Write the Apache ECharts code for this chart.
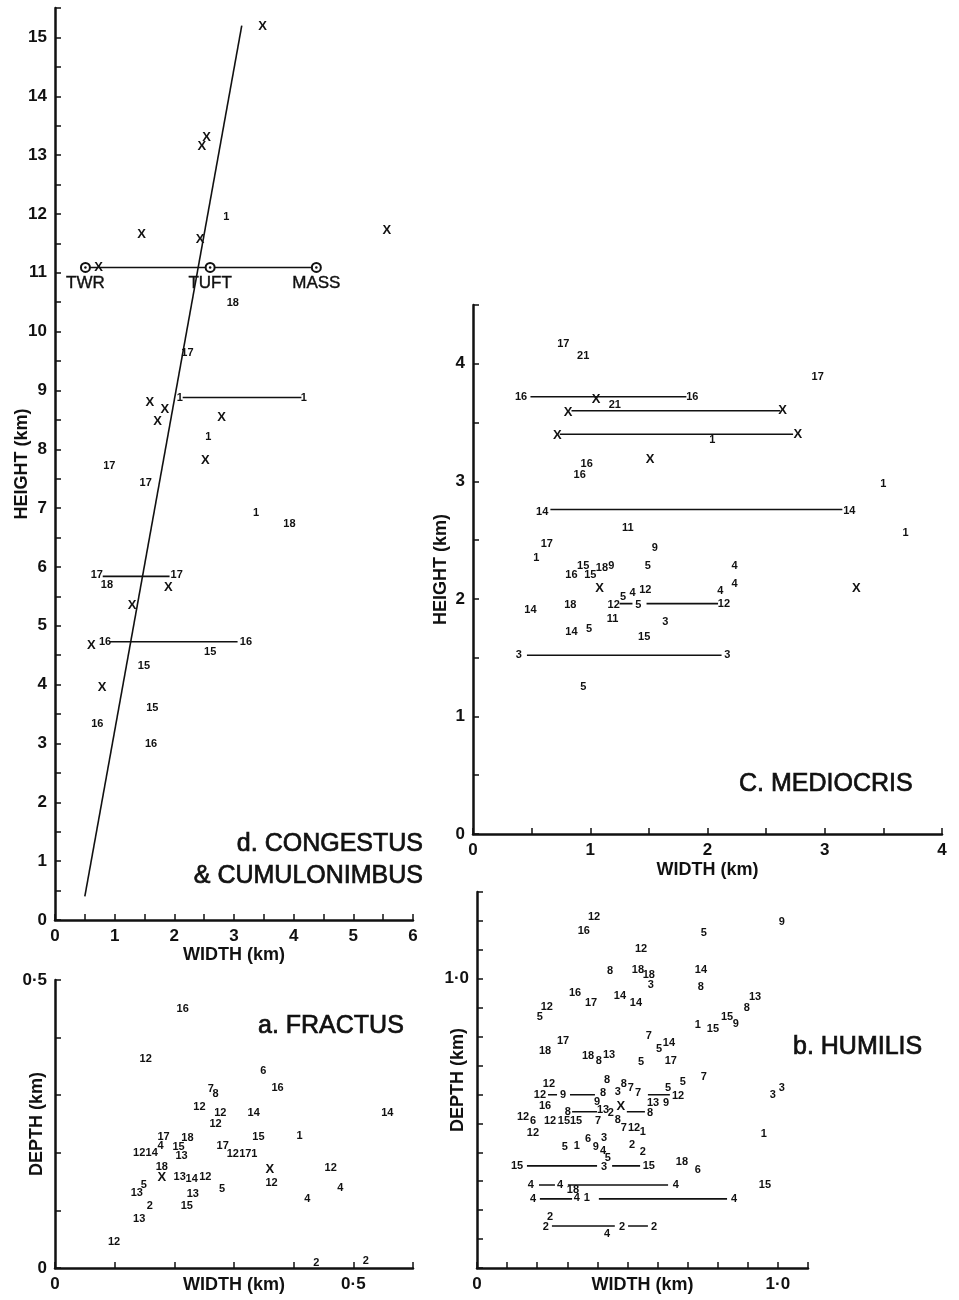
<!DOCTYPE html>
<html>
<head>
<meta charset="utf-8">
<script src="https://cdn.jsdelivr.net/npm/echarts@6/dist/echarts.min.js"></script>
<style>
  html, body { margin: 0; background: #fff; }
  #main { width: 959px; height: 1300px; }
</style>
</head>
<body>
<div id="main"></div>
<script>
// d. congestus & cumulonimbus : [width km, height km, mark]
var congestusPts = [
  [3.48, 15.19, 'X'], [2.54, 13.30, 'X'], [2.46, 13.15, 'X'], [2.87, 11.94, '1'],
  [1.45, 11.66, 'X'], [2.43, 11.56, 'X'], [5.56, 11.72, 'X'], [0.73, 11.09, 'X'],
  [2.98, 10.49, '18'], [2.22, 9.64, '17'], [2.09, 8.88, '1'], [4.17, 8.88, '1'],
  [1.59, 8.79, 'X'], [1.84, 8.67, 'X'], [1.72, 8.47, 'X'], [2.79, 8.55, 'X'],
  [2.57, 8.21, '1'], [2.52, 7.81, 'X'], [0.91, 7.72, '17'], [1.52, 7.43, '17'],
  [3.37, 6.92, '1'], [3.93, 6.73, '18'], [0.70, 5.86, '17'], [2.04, 5.86, '17'],
  [0.87, 5.70, '18'], [1.90, 5.65, 'X'], [1.29, 5.34, 'X'], [0.61, 4.66, 'X'],
  [0.84, 4.73, '16'], [3.20, 4.73, '16'], [2.60, 4.56, '15'], [1.49, 4.32, '15'],
  [0.79, 3.95, 'X'], [1.63, 3.60, '15'], [0.71, 3.33, '16'], [1.61, 2.99, '16']
];
var congestusSites = [[0.51, 11.09, 'TWR'], [2.60, 11.09, 'TUFT'], [4.38, 11.09, 'MASS']];
var congestusSegs = [[0.55, 4.34, 11.09], [2.14, 4.13, 8.88], [0.80, 1.92, 5.84], [0.92, 3.06, 4.73]];
var congestusFit = [[0.50, 0.40], [3.13, 15.20]];

// c. mediocris
var mediocrisPts = [
  [0.77, 4.17, '17'], [0.94, 4.07, '21'], [2.94, 3.89, '17'], [0.41, 3.72, '16'],
  [1.87, 3.72, '16'], [1.05, 3.70, 'X'], [1.21, 3.65, '21'], [0.81, 3.59, 'X'],
  [2.64, 3.60, 'X'], [0.72, 3.39, 'X'], [2.77, 3.40, 'X'], [2.04, 3.35, '1'],
  [1.51, 3.19, 'X'], [0.97, 3.15, '16'], [0.91, 3.05, '16'], [3.50, 2.98, '1'],
  [0.59, 2.74, '14'], [3.21, 2.75, '14'], [1.32, 2.60, '11'], [3.69, 2.56, '1'],
  [0.63, 2.47, '17'], [1.55, 2.43, '9'], [0.54, 2.35, '1'], [0.94, 2.28, '15'],
  [1.10, 2.26, '18'], [1.18, 2.28, '9'], [1.49, 2.28, '5'], [2.23, 2.28, '4'],
  [0.84, 2.20, '16'], [1.00, 2.20, '15'], [2.23, 2.13, '4'], [1.08, 2.09, 'X'],
  [2.11, 2.07, '4'], [1.47, 2.08, '12'], [1.36, 2.05, '4'], [1.28, 2.02, '5'],
  [1.20, 1.95, '12'], [1.41, 1.95, '5'], [2.14, 1.96, '12'], [0.49, 1.91, '14'],
  [0.83, 1.95, '18'], [1.19, 1.83, '11'], [1.64, 1.80, '3'], [0.84, 1.72, '14'],
  [0.99, 1.74, '5'], [1.46, 1.68, '15'], [0.39, 1.52, '3'], [2.17, 1.52, '3'],
  [0.94, 1.25, '5'], [3.27, 2.09, 'X']
];
var mediocrisSegs = [
  [0.49, 1.82, 3.72], [0.84, 2.62, 3.60], [0.74, 2.73, 3.40], [0.66, 3.15, 2.76],
  [1.25, 1.36, 1.96], [1.48, 2.09, 1.96], [0.46, 2.12, 1.52]
];

// a. fractus : [width km, depth km, mark]
var fractusPts = [
  [0.214, 0.450, '16'], [0.152, 0.363, '12'], [0.349, 0.342, '6'], [0.261, 0.311, '7'],
  [0.269, 0.302, '8'], [0.373, 0.312, '16'], [0.242, 0.280, '12'], [0.277, 0.269, '12'],
  [0.333, 0.269, '14'], [0.557, 0.269, '14'], [0.269, 0.250, '12'], [0.341, 0.228, '15'],
  [0.410, 0.229, '1'], [0.182, 0.228, '17'], [0.222, 0.226, '18'], [0.207, 0.210, '15'],
  [0.141, 0.200, '12'], [0.162, 0.200, '14'], [0.177, 0.212, '4'], [0.212, 0.195, '13'],
  [0.281, 0.212, '17'], [0.298, 0.198, '12'], [0.319, 0.198, '17'], [0.334, 0.198, '1'],
  [0.179, 0.175, '18'], [0.179, 0.158, 'X'], [0.360, 0.172, 'X'], [0.462, 0.173, '12'],
  [0.209, 0.158, '13'], [0.229, 0.155, '14'], [0.252, 0.158, '12'], [0.363, 0.148, '12'],
  [0.478, 0.139, '4'], [0.280, 0.137, '5'], [0.149, 0.144, '5'], [0.137, 0.130, '13'],
  [0.231, 0.128, '13'], [0.423, 0.120, '4'], [0.159, 0.108, '2'], [0.221, 0.108, '15'],
  [0.141, 0.085, '13'], [0.099, 0.045, '12'], [0.438, 0.009, '2'], [0.521, 0.012, '2']
];

// b. humilis
var humilisPts = [
  [0.389, 1.214, '12'], [0.355, 1.166, '16'], [1.013, 1.197, '9'], [0.754, 1.159, '5'],
  [0.545, 1.104, '12'], [0.442, 1.028, '8'], [0.535, 1.031, '18'], [0.571, 1.014, '18'],
  [0.578, 0.979, '3'], [0.744, 1.031, '14'], [0.744, 0.972, '8'], [0.326, 0.952, '16'],
  [0.379, 0.917, '17'], [0.475, 0.941, '14'], [0.528, 0.917, '14'], [0.924, 0.938, '13'],
  [0.897, 0.900, '8'], [0.232, 0.903, '12'], [0.209, 0.869, '5'], [0.831, 0.869, '15'],
  [0.860, 0.844, '9'], [0.734, 0.841, '1'], [0.784, 0.827, '15'], [0.571, 0.803, '7'],
  [0.638, 0.779, '14'], [0.605, 0.758, '5'], [0.286, 0.785, '17'], [0.226, 0.751, '18'],
  [0.369, 0.734, '18'], [0.405, 0.716, '8'], [0.439, 0.737, '13'], [0.545, 0.713, '5'],
  [0.644, 0.716, '17'], [0.754, 0.661, '7'], [0.684, 0.644, '5'], [0.432, 0.651, '8'],
  [0.239, 0.637, '12'], [0.209, 0.599, '12'], [0.286, 0.599, '9'], [0.419, 0.605, '8'],
  [0.468, 0.609, '3'], [0.488, 0.637, '8'], [0.511, 0.623, '7'], [0.535, 0.605, '7'],
  [0.635, 0.623, '5'], [0.668, 0.595, '12'], [0.983, 0.599, '3'], [1.013, 0.623, '3'],
  [0.226, 0.561, '16'], [0.399, 0.574, '9'], [0.419, 0.547, '13'], [0.445, 0.536, '2'],
  [0.478, 0.557, 'X'], [0.575, 0.536, '8'], [0.585, 0.571, '13'], [0.628, 0.571, '9'],
  [0.302, 0.540, '8'], [0.153, 0.522, '12'], [0.186, 0.509, '6'], [0.243, 0.509, '12'],
  [0.289, 0.509, '15'], [0.329, 0.509, '15'], [0.402, 0.509, '7'], [0.468, 0.512, '8'],
  [0.488, 0.484, '7'], [0.522, 0.484, '12'], [0.551, 0.471, '1'], [0.186, 0.467, '12'],
  [0.292, 0.419, '5'], [0.332, 0.422, '1'], [0.369, 0.446, '6'], [0.395, 0.419, '9'],
  [0.422, 0.450, '3'], [0.419, 0.405, '4'], [0.435, 0.381, '5'], [0.515, 0.426, '2'],
  [0.551, 0.401, '2'], [0.133, 0.353, '15'], [0.422, 0.349, '3'], [0.571, 0.353, '15'],
  [0.681, 0.367, '18'], [0.734, 0.339, '6'], [0.179, 0.287, '4'], [0.276, 0.287, '4'],
  [0.661, 0.287, '4'], [0.957, 0.287, '15'], [0.319, 0.270, '18'], [0.186, 0.239, '4'],
  [0.332, 0.242, '4'], [0.365, 0.242, '1'], [0.854, 0.239, '4'], [0.243, 0.176, '2'],
  [0.229, 0.142, '2'], [0.482, 0.142, '2'], [0.588, 0.142, '2'], [0.432, 0.118, '4'],
  [0.953, 0.462, '1']
];
var humilisSegs = [
  [0.236, 0.266, 0.599], [0.309, 0.392, 0.599], [0.568, 0.641, 0.599],
  [0.316, 0.399, 0.540], [0.498, 0.558, 0.540], [0.166, 0.399, 0.353],
  [0.449, 0.542, 0.353], [0.206, 0.259, 0.287], [0.302, 0.635, 0.287],
  [0.209, 0.316, 0.239], [0.405, 0.831, 0.239], [0.249, 0.458, 0.145],
  [0.502, 0.568, 0.145]
];

var FONT = 'Liberation Sans';
var INK = '#111';

var chart = echarts.init(document.getElementById('main'));

function near(a, b) { return Math.abs(a - b) < 1e-6; }
function intLabel(v) { return near(v, Math.round(v)) ? String(Math.round(v)) : ''; }

function axis(gi, max, step, fmt, name, gap, isY) {
  return {
    type: 'value', gridIndex: gi, min: 0, max: max, interval: step,
    name: name, nameLocation: 'middle', nameGap: gap, nameRotate: isY ? 90 : 0,
    nameMoveOverlap: false,
    nameTextStyle: { fontFamily: FONT, fontSize: 18, fontWeight: 'bold', color: INK },
    axisLine: { onZero: false, lineStyle: { color: INK, width: 2.5 } },
    axisTick: { inside: true, length: 6, lineStyle: { color: INK, width: 1.5 } },
    splitLine: { show: false },
    axisLabel: { formatter: fmt, color: INK, fontFamily: FONT, fontSize: 17, fontWeight: 'bold', margin: 8 }
  };
}

function marks(gi, pts) {
  return {
    type: 'scatter', xAxisIndex: gi, yAxisIndex: gi, data: pts,
    symbolSize: 1, itemStyle: { color: 'rgba(0,0,0,0)', opacity: 1 }, z: 5,
    label: {
      show: true, position: 'inside', color: INK, fontFamily: FONT, fontWeight: 'bold',
      formatter: function (p) { return p.data[2]; },
      rich: { x: { fontSize: 13, fontWeight: 'bold', color: INK, fontFamily: FONT } },
      fontSize: 11
    }
  };
}

function segs(gi, list) {
  return list.map(function (s) {
    return {
      type: 'line', xAxisIndex: gi, yAxisIndex: gi, symbol: 'none', z: 3,
      lineStyle: { color: INK, width: 1.6 },
      data: [[s[0], s[2]], [s[1], s[2]]]
    };
  });
}

// X marks a bit larger than the day numbers
function withBigX(pts) {
  return pts.map(function (p) {
    return p[2] === 'X' ? { value: p, label: { fontSize: 13 } } : p;
  });
}

var series = [];
var dMarks = marks(0, congestusPts);
dMarks.data = withBigX(congestusPts);
dMarks.label.formatter = function (p) { return p.value[2]; };
series.push(dMarks);
series = series.concat(segs(0, congestusSegs));
series.push({
  type: 'line', xAxisIndex: 0, yAxisIndex: 0, symbol: 'none', z: 3,
  lineStyle: { color: INK, width: 1.6 }, data: congestusFit
});
series.push({
  type: 'scatter', xAxisIndex: 0, yAxisIndex: 0, data: congestusSites, z: 6,
  symbol: 'emptyCircle', symbolSize: 9,
  itemStyle: { color: INK, borderColor: INK, borderWidth: 1.6, opacity: 1 },
  label: {
    show: true, position: 'bottom', distance: 2, color: INK, fontFamily: FONT, fontSize: 17,
    textBorderColor: INK, textBorderWidth: 0.4,
    formatter: function (p) { return p.data[2]; }
  }
});
series.push({
  type: 'scatter', xAxisIndex: 0, yAxisIndex: 0, data: congestusSites, z: 7,
  symbol: 'circle', symbolSize: 2.5, itemStyle: { color: INK, opacity: 1 }
});
var cMarks = marks(1, mediocrisPts);
cMarks.data = withBigX(mediocrisPts);
cMarks.label.formatter = function (p) { return p.value[2]; };
series.push(cMarks);
series = series.concat(segs(1, mediocrisSegs));
var aMarks = marks(2, fractusPts);
aMarks.data = withBigX(fractusPts);
aMarks.label.formatter = function (p) { return p.value[2]; };
series.push(aMarks);
var bMarks = marks(3, humilisPts);
bMarks.data = withBigX(humilisPts);
bMarks.label.formatter = function (p) { return p.value[2]; };
series.push(bMarks);
series = series.concat(segs(3, humilisSegs));

function title(x, y, text, align) {
  return {
    type: 'text', x: x, y: y,
    style: {
      text: text, fill: INK, stroke: INK, lineWidth: 0.7,
      font: '25px "' + FONT + '"', textAlign: align, textVerticalAlign: 'middle'
    }
  };
}

chart.setOption({
  animation: false,
  backgroundColor: '#fff',
  grid: [
    { left: 55, top: 8, width: 358, height: 912 },
    { left: 473, top: 305, width: 469, height: 529 },
    { left: 55, top: 980, width: 358, height: 288 },
    { left: 477, top: 892, width: 331, height: 376 }
  ],
  xAxis: [
    axis(0, 6, 0.5, intLabel, 'WIDTH (km)', 26, false),
    axis(1, 4, 0.5, intLabel, 'WIDTH (km)', 27, false),
    axis(2, 0.6, 0.1, function (v) { return near(v, 0) ? '0' : near(v, 0.5) ? '0·5' : ''; }, 'WIDTH (km)', 8, false),
    axis(3, 1.1, 0.1, function (v) { return near(v, 0) ? '0' : near(v, 1) ? '1·0' : ''; }, 'WIDTH (km)', 8, false)
  ],
  yAxis: [
    axis(0, 15.5, 0.5, intLabel, 'HEIGHT (km)', 24, true),
    axis(1, 4.5, 0.5, intLabel, 'HEIGHT (km)', 23, true),
    axis(2, 0.5, 0.1, function (v) { return near(v, 0) ? '0' : near(v, 0.5) ? '0·5' : ''; }, 'DEPTH (km)', 9, true),
    axis(3, 1.3, 0.1, function (v) { return near(v, 1) ? '1·0' : ''; }, 'DEPTH (km)', 10, true)
  ],
  graphic: [
    title(423, 844, 'd. CONGESTUS', 'right'),
    title(423, 876, '& CUMULONIMBUS', 'right'),
    title(739, 784, 'C. MEDIOCRIS', 'left'),
    title(258, 1026, 'a. FRACTUS', 'left'),
    title(793, 1047, 'b. HUMILIS', 'left')
  ],
  series: series
});
</script>
</body>
</html>
